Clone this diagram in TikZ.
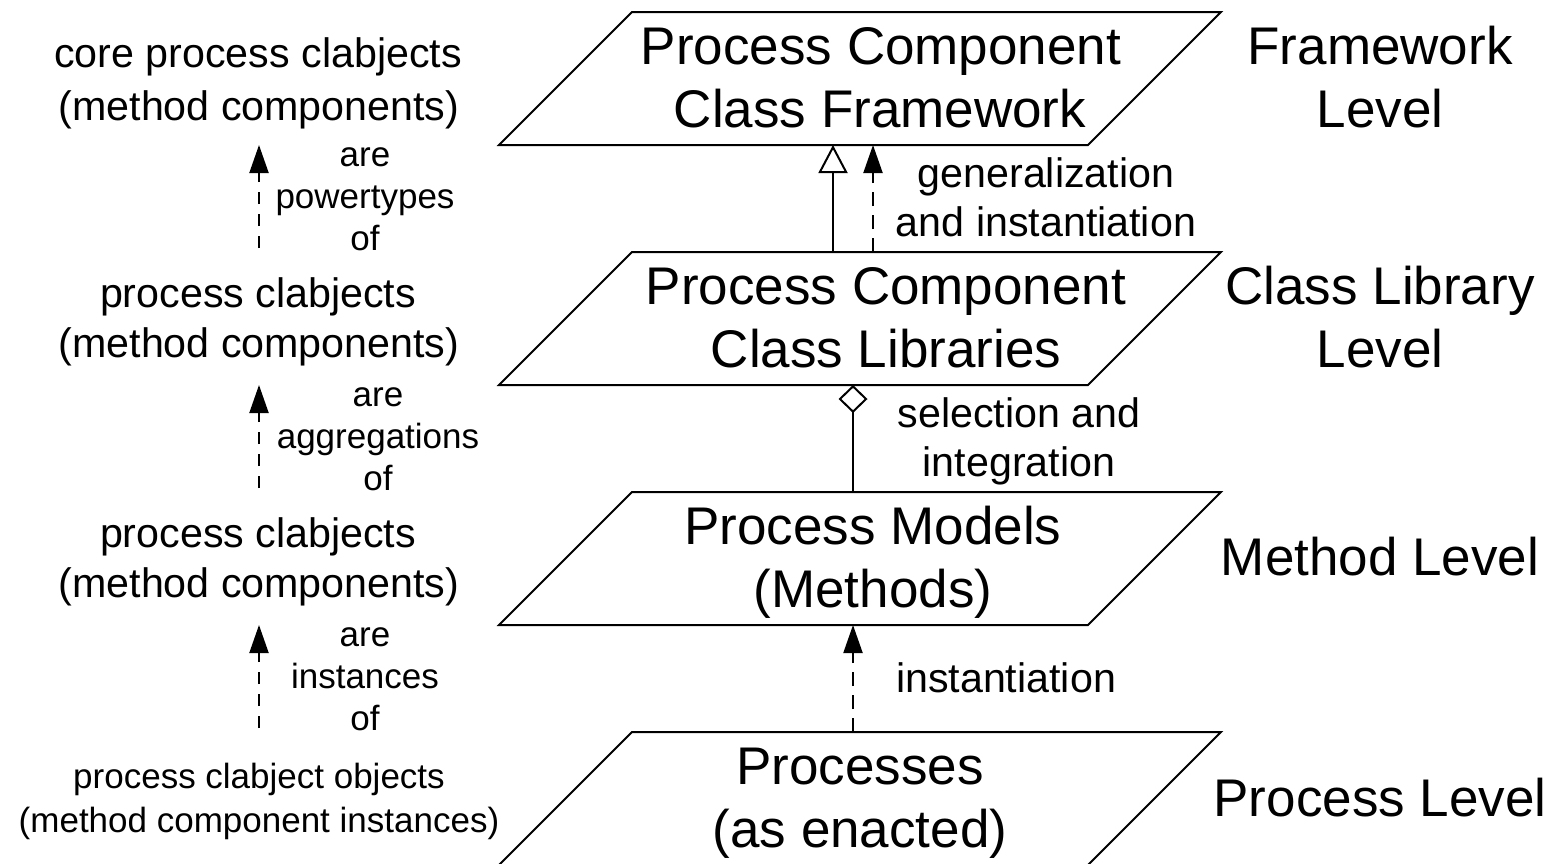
\documentclass[tikz,border=0pt]{standalone}
\usepackage{fontspec}
\setmainfont{Liberation Sans}
\usetikzlibrary{arrows.meta}
\begin{document}
\begin{tikzpicture}[x=0.5pt,y=-0.5pt, line width=1pt,
  plane/.style={draw, line join=miter},
  big/.style={font=\fontsize{26.5}{31}\selectfont, anchor=base, inner sep=0pt},
  mid/.style={font=\fontsize{20.6}{24}\selectfont, anchor=base, inner sep=0pt},
  small/.style={font=\fontsize{17.5}{21}\selectfont, anchor=base, inner sep=0pt},
  dashline/.style={dash pattern=on 7pt off 4.5pt},
  ldash/.style={dash pattern=on 6pt off 5pt},
  gen/.style={-{Triangle[open,length=14pt,width=14.5pt]}},
  inst/.style={-{Triangle[length=14pt,width=9.5pt]}},
  agg/.style={{Diamond[open,length=14pt,width=14.5pt]}-}]
\useasboundingbox (0,0) rectangle (1558,863);
\clip (0,0) rectangle (1558,863);
% planes
\draw[plane] (632,12) -- (1221,12) -- (1088,145) -- (499,145) -- cycle;
\draw[plane] (632,252) -- (1221,252) -- (1088,385) -- (499,385) -- cycle;
\draw[plane] (632,492) -- (1221,492) -- (1088,625) -- (499,625) -- cycle;
\draw[plane] (632,732) -- (1221,732) -- (1088,865) -- (499,865) -- cycle;
% plane texts
\node[big] (f1) at (881,64) {Process Component};
\node[big] (f2) at (880,127) {Class Framework};
\node[big] (l1) at (886,304) {Process Component};
\node[big] (l2) at (886,367) {Class Libraries};
\node[big] (m1) at (873,544) {Process Models};
\node[big] (m2) at (873,607) {(Methods)};
\node[big] (p1) at (860,784) {Processes};
\node[big] (p2) at (860,847) {(as enacted)};
% right labels
\node[big] (rf1) at (1380,64) {Framework};
\node[big] (rf2) at (1380,127) {Level};
\node[big] (rl1) at (1380,304) {Class Library};
\node[big] (rl2) at (1380,367) {Level};
\node[big] (rm) at (1380,575) {Method Level};
\node[big] (rp) at (1380,816) {Process Level};
% left labels
\node[mid] (a1) at (258,67) {core process clabjects};
\node[mid] (a2) at (259,120) {(method components)};
\node[mid] (b1) at (258,307) {process clabjects};
\node[mid] (b2) at (259,357) {(method components)};
\node[mid] (c1) at (258,547) {process clabjects};
\node[mid] (c2) at (259,597) {(method components)};
\node[small] (d1) at (259,788) {process clabject objects};
\node[small] (d2) at (259,832) {(method component instances)};
% left arrow labels
\node[small] (e1) at (365,166) {are};
\node[small] (e2) at (365,208) {powertypes};
\node[small] (e3) at (365,250) {of};
\node[small] (g1) at (378,406) {are};
\node[small] (g2) at (378,448) {aggregations};
\node[small] (g3) at (378,490) {of};
\node[small] (h1) at (365,646) {are};
\node[small] (h2) at (365,688) {instances};
\node[small] (h3) at (365,730) {of};
% centre labels
\node[mid] (k1) at (1046,187) {generalization};
\node[mid] (k2) at (1046,236) {and instantiation};
\node[mid] (s1) at (1019,427) {selection and};
\node[mid] (s2) at (1019,476) {integration};
\node[mid] (n1) at (1006,692) {instantiation};
% connector end points
\coordinate (genS) at (833,252); \coordinate (genE) at (833,145);
\coordinate (insS) at (873,252); \coordinate (insE) at (873,145);
\coordinate (aggS) at (853,385); \coordinate (aggE) at (853,492);
\coordinate (botS) at (853,732); \coordinate (botE) at (853,625);
\coordinate (L1S) at (259,248); \coordinate (L1E) at (259,145);
\coordinate (L2S) at (259,488); \coordinate (L2E) at (259,385);
\coordinate (L3S) at (259,728); \coordinate (L3E) at (259,625);
% connectors
\draw[gen] (genS) -- (genE);
\draw[inst, dashline] (insS) -- (insE);
\draw[agg] (aggS) -- (aggE);
\draw[inst, dashline] (botS) -- (botE);
\draw[inst, ldash] (L1S) -- (L1E);
\draw[inst, ldash] (L2S) -- (L2E);
\draw[inst, ldash] (L3S) -- (L3E);
\end{tikzpicture}
\end{document}
